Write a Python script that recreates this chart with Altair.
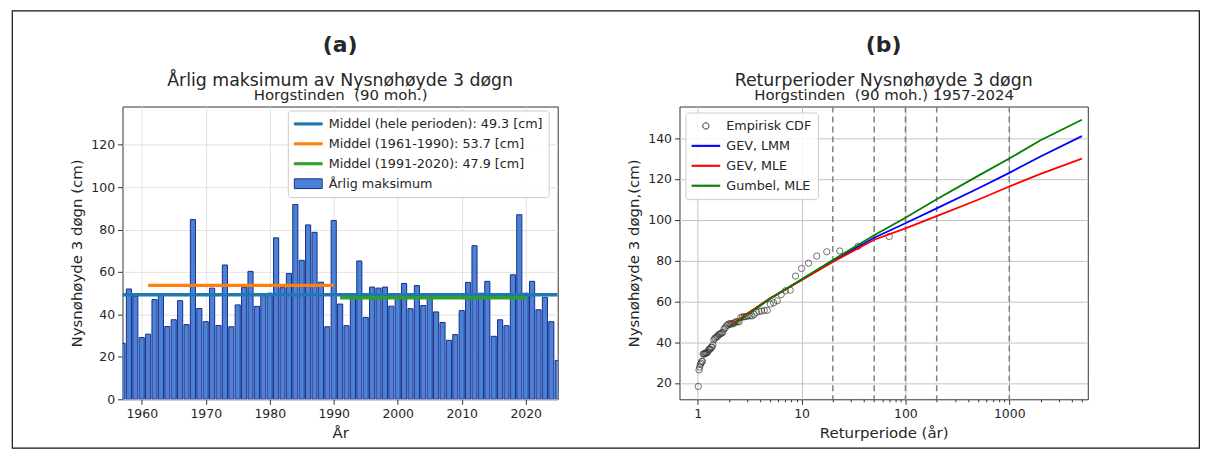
import altair as alt
import pandas as pd

# ---------------- data ----------------
years = list(range(1957, 2026))
annual_max = [26.4, 52.0, 48.5, 29.1, 30.7, 47.0, 49.0, 34.3, 37.5, 46.5,
              35.2, 84.7, 42.8, 36.6, 52.4, 34.8, 63.3, 34.2, 44.5, 52.8,
              60.3, 43.8, 49.0, 50.0, 76.1, 52.6, 59.3, 91.8, 65.5, 82.2,
              78.7, 55.2, 34.2, 84.3, 44.9, 34.7, 49.5, 65.2, 38.6, 52.9,
              52.4, 52.9, 43.9, 49.0, 54.6, 42.7, 53.6, 44.2, 49.0, 41.2,
              36.2, 27.8, 30.5, 41.8, 55.1, 72.4, 50.0, 55.6, 29.7, 37.5,
              34.7, 58.7, 87.0, 50.0, 55.6, 42.2, 48.1, 36.6, 18.3]

mean_labels = ["Middel (hele perioden): 49.3 [cm]",
               "Middel (1961-1990): 53.7 [cm]",
               "Middel (1991-2020): 47.9 [cm]"]
mean_values = [49.3, 53.7, 47.9]
mean_start = [1957, 1961, 1991]
mean_end = [2025, 1990, 2020]
bar_label = "Årlig maksimum"

return_periods = [2, 3, 5, 10, 20, 50, 100, 200, 500, 1000, 2000, 5000]
gev_lmm = [47.2, 53.7, 61.4, 70.6, 79.8, 91.2, 98.3, 105.6, 115.3, 123.0, 131.0, 141.0]
gev_mle = [47.6, 54.0, 61.6, 70.4, 79.3, 90.2, 95.8, 101.8, 109.8, 116.3, 122.5, 130.0]
gumbel_mle = [47.0, 53.5, 61.3, 70.8, 80.3, 92.4, 101.0, 110.0, 121.5, 130.0, 139.0, 149.0]
model_labels = ["GEV, LMM", "GEV, MLE", "Gumbel, MLE"]
emp_label = "Empirisk CDF"
dashed_periods = [20, 50, 100, 200, 1000]

# ---------------- style ----------------
FONT = "DejaVu Sans"
TXT = "#262626"
BAR_FILL = "#4a83d6"
BAR_EDGE = "#1a2b8c"
MEAN_COLORS = ["#1f77b4", "#ff7f0e", "#2ca02c"]
FIT_COLORS = ["#0000ff", "#ff0000", "#008000"]
LINE_SYM = "M-1,-0.15L3,-0.15L3,0.15L-1,0.15Z"
LINE_SYM_B = "M-1,-0.08L3,-0.08L3,0.08L-1,0.08Z"
RECT_SYM = "M-1,-0.7L3,-0.7L3,0.7L-1,0.7Z"
CIRC_SYM = "M0.55,0A0.45,0.45 0 1,0 1.45,0A0.45,0.45 0 1,0 0.55,0Z"
NB = "\u00a0"

W_A, W_B, H = 437, 410, 294
GAP = 122.3


def make_legend(x, y):
    return alt.Legend(title=None, orient="none", legendX=x, legendY=y,
                      symbolSize=196, symbolOpacity=1, symbolStrokeWidth=1,
                      labelOffset=20, rowPadding=5, padding=6,
                      fillColor="rgba(255,255,255,0.85)", strokeColor="#cccccc",
                      cornerRadius=3, labelFont=FONT, labelFontSize=12.8,
                      labelColor=TXT, labelLimit=0)


def top_axis(text):
    return alt.Axis(orient="top", title=text, labels=False, ticks=False,
                    domain=False, grid=False, titleFontSize=15,
                    titleFontWeight="normal", titlePadding=4.5,
                    titleColor=TXT, titleFont=FONT)


def title(letter, line):
    return alt.TitleParams(text=letter, subtitle=line,
                           fontSize=22, fontWeight="bold", subtitleFontSize=17.4,
                           subtitlePadding=15, offset=-3, frame="group", anchor="middle",
                           color=TXT, subtitleColor=TXT, font=FONT, subtitleFont=FONT)


# ---------------- panel (a) ----------------
bar_df = pd.DataFrame({"year": years, "value": annual_max})
mean_df = pd.DataFrame({"label": mean_labels, "value": mean_values,
                        "start": mean_start, "end": mean_end})
leg_a_labels = mean_labels + [bar_label]
leg_a_df = pd.DataFrame({"label": leg_a_labels})

xs_a = alt.Scale(domain=[1957, 2025], nice=False, zero=False)
ys_a = alt.Scale(domain=[0, 138], nice=False)
x_axis_a = alt.Axis(values=[1960, 1970, 1980, 1990, 2000, 2010, 2020],
                    format="d", title="År", gridColor="#e2e2e2")
y_axis_a = alt.Axis(values=[0, 20, 40, 60, 80, 100, 120],
                    title="Nysnøhøyde 3 døgn (cm)", gridColor="#e2e2e2")

bars = alt.Chart(bar_df).transform_calculate(
    x0="datum.year - 0.4", x1="datum.year + 0.4"
).mark_bar(fill=BAR_FILL, stroke=BAR_EDGE, strokeWidth=1, clip=True).encode(
    x=alt.X("x0:Q", scale=xs_a, axis=x_axis_a),
    x2="x1:Q",
    y=alt.Y("value:Q", scale=ys_a, axis=y_axis_a),
    y2=alt.datum(0),
)

means = alt.Chart(mean_df).mark_rule(strokeWidth=3.5, clip=True, strokeCap="butt").encode(
    x=alt.X("start:Q", scale=xs_a, axis=top_axis(f"Horgstinden{NB} (90 moh.)")),
    x2="end:Q",
    y=alt.Y("value:Q", scale=ys_a, axis=y_axis_a),
    color=alt.Color("label:N", scale=alt.Scale(domain=mean_labels, range=MEAN_COLORS), legend=None),
)

leg_a = make_legend(166, 4)
legend_layer_a = alt.Chart(leg_a_df).mark_point(filled=True, opacity=0).encode(
    shape=alt.Shape("label:N", scale=alt.Scale(domain=leg_a_labels,
                    range=[LINE_SYM, LINE_SYM, LINE_SYM, RECT_SYM]), legend=leg_a),
    fill=alt.Fill("label:N", scale=alt.Scale(domain=leg_a_labels,
                  range=MEAN_COLORS + [BAR_FILL]), legend=leg_a),
    stroke=alt.Stroke("label:N", scale=alt.Scale(domain=leg_a_labels,
                      range=MEAN_COLORS + [BAR_EDGE]), legend=leg_a),
)

panel_a = alt.layer(bars, means, legend_layer_a).resolve_axis(x="independent").properties(
    width=W_A, height=H, title=title("(a)", "Årlig maksimum av Nysnøhøyde 3 døgn"),
)

# ---------------- panel (b) ----------------
fit_rows = []
for lab, vals in zip(model_labels, [gev_lmm, gev_mle, gumbel_mle]):
    for t, v in zip(return_periods, vals):
        fit_rows.append({"model": lab, "T": t, "value": v})
fit_df = pd.DataFrame(fit_rows)
dash_df = pd.DataFrame({"T": dashed_periods})
leg_b_labels = [emp_label] + model_labels
leg_b_df = pd.DataFrame({"label": leg_b_labels})

tick_vals = []
for dec in [1, 10, 100, 1000]:
    for m in range(1, 10):
        tick_vals.append(dec * m)
tick_vals = [t for t in tick_vals if t <= 5000]
is_major = "indexof([1,10,100,1000], datum.value) >= 0"

xs_b = alt.Scale(type="log", domain=[0.668, 5700], nice=False)
ys_b = alt.Scale(domain=[12, 155.5], nice=False, zero=False)
x_axis_b = alt.Axis(values=tick_vals, title="Returperiode (år)",
                    labelExpr=f"{is_major} ? format(datum.value, 'd') : ''",
                    labelOverlap=False, gridColor="#c4c4c4",
                    gridOpacity={"condition": {"test": is_major, "value": 1}, "value": 0},
                    tickSize={"condition": {"test": is_major, "value": 5}, "value": 2.5})
y_axis_b = alt.Axis(values=[20, 40, 60, 80, 100, 120, 140],
                    title="Nysnøhøyde 3 døgn,(cm)", gridColor="#c4c4c4")

dashes = alt.Chart(dash_df).mark_rule(color="#808080", strokeWidth=1.5,
                                      strokeDash=[6, 4], clip=True).encode(
    x=alt.X("T:Q", scale=xs_b, axis=x_axis_b),
)

emp = alt.Chart(bar_df).transform_window(
    rank="row_number()", sort=[alt.SortField("value", order="descending")]
).transform_calculate(
    T=f"{len(annual_max) + 1} / datum.rank"
).mark_point(shape="circle", filled=False, stroke="#333333", strokeWidth=1,
             size=40, clip=True).encode(
    x=alt.X("T:Q", scale=xs_b, axis=None),
    y=alt.Y("value:Q", scale=ys_b, axis=y_axis_b),
)

fits = alt.Chart(fit_df).mark_line(strokeWidth=1.8, clip=True).encode(
    x=alt.X("T:Q", scale=xs_b, axis=top_axis(f"Horgstinden{NB} (90 moh.) 1957-2024")),
    y=alt.Y("value:Q", scale=ys_b, axis=y_axis_b),
    color=alt.Color("model:N", scale=alt.Scale(domain=model_labels, range=FIT_COLORS), legend=None),
    detail="model:N",
)

leg_b = make_legend(6, 6)
legend_layer_b = alt.Chart(leg_b_df).mark_point(filled=True, opacity=0).encode(
    shape=alt.Shape("label:N", scale=alt.Scale(domain=leg_b_labels,
                    range=[CIRC_SYM, LINE_SYM_B, LINE_SYM_B, LINE_SYM_B]), legend=leg_b),
    fill=alt.Fill("label:N", scale=alt.Scale(domain=leg_b_labels,
                  range=["transparent"] + FIT_COLORS), legend=leg_b),
    stroke=alt.Stroke("label:N", scale=alt.Scale(domain=leg_b_labels,
                      range=["#333333"] + FIT_COLORS), legend=leg_b),
)

panel_b = alt.layer(dashes, emp, fits, legend_layer_b).resolve_axis(x="independent").properties(
    width=W_B, height=H, title=title("(b)", "Returperioder Nysnøhøyde 3 døgn"),
)

# thin border round the whole figure: a decoration drawn from an empty 1px cell that the
# grid places just under panel (a)'s plot; offsets are pixels from that cell's corner
CELL_X, CELL_Y = 121.7, 104 + H
frame = alt.Chart(pd.DataFrame({"k": [0]})).mark_rect(
    fillOpacity=0, stroke="#111111", strokeWidth=1.2, clip=False
).encode(
    x=alt.value(11 - CELL_X), x2=alt.value(1203 - CELL_X),
    y=alt.value(8 - CELL_Y), y2=alt.value(447 - CELL_Y),
).properties(width=1, height=1, view=alt.ViewBackground(stroke="transparent"))

chart = alt.concat(
    panel_a, panel_b, frame, columns=2, bounds="flush",
    spacing=alt.RowColnumber(row=0, column=GAP),
).resolve_scale(
    color="independent", fill="independent", stroke="independent", shape="independent",
).resolve_legend(
    color="independent", fill="independent", stroke="independent", shape="independent",
).properties(
    padding={"left": 3, "top": 0, "right": 5, "bottom": 3},
    background="white",
).configure_view(
    stroke="#333333", strokeWidth=1,
).configure_axis(
    labelFont=FONT, labelFontSize=12.5, labelColor=TXT,
    titleFont=FONT, titleFontSize=15, titleFontWeight="normal", titleColor=TXT,
    tickColor="#333333", tickSize=5, labelPadding=3, titlePadding=6,
    domain=False,
)

chart.save("out.html", embed_options={"renderer": "svg", "actions": False})
